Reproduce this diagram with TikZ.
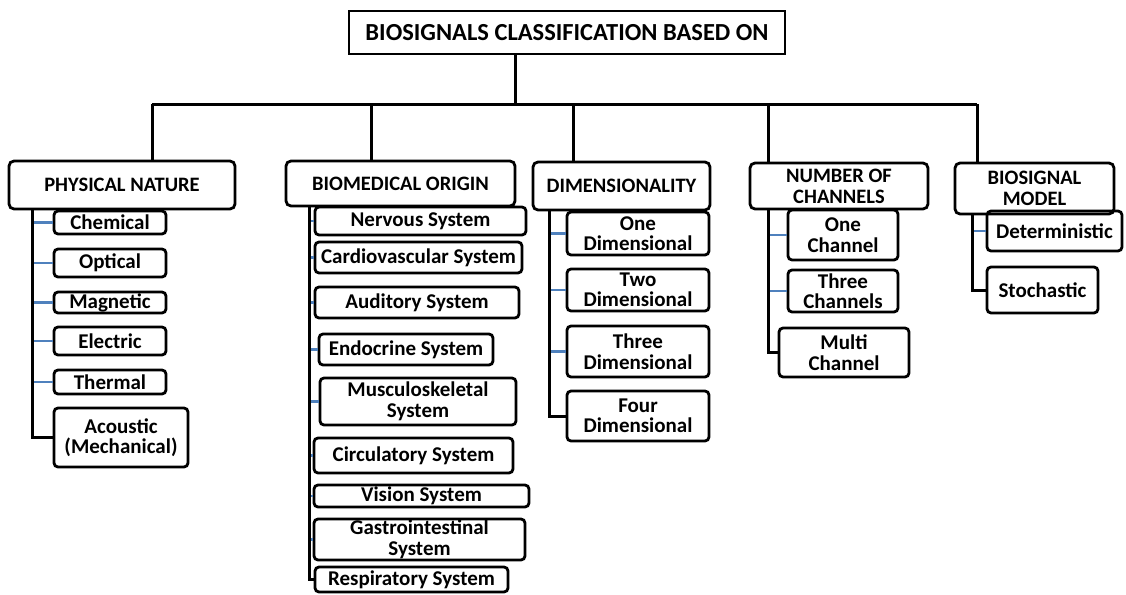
\documentclass[tikz,border=0pt]{standalone}
\usepackage{fontspec}
\setmainfont{Carlito}
\usetikzlibrary{positioning}
\definecolor{linkblue}{RGB}{79,129,189}

\begin{document}
\begin{tikzpicture}[x=1pt,y=-1pt,
    rootbox/.style={draw, line width=2.8pt, inner sep=0pt, font=\fontsize{24.5}{25}\selectfont\bfseries},
    groupbox/.style={draw, line width=2.8pt, rounded corners=5pt, inner sep=0pt, align=center, font=\fontsize{20.5}{21}\selectfont\bfseries},
    itembox/.style={draw, line width=2.8pt, rounded corners=4pt, inner sep=0pt, align=center, font=\fontsize{21}{20.5}\selectfont\bfseries},
    trunk/.style={line width=3pt},
    bluelink/.style={linkblue, line width=2.6pt}]

    \useasboundingbox (0,0) rectangle (1126,594);

    % Root
    \node[rootbox, minimum width=436pt, minimum height=43pt] (root) at (567,32.5) {BIOSIGNALS CLASSIFICATION BASED ON};

    % Groups
    \node[groupbox, minimum width=226pt, minimum height=48pt] (pn) at (122,185) {PHYSICAL NATURE};
    \node[groupbox, minimum width=229pt, minimum height=45pt] (bo) at (400.5,183.5) {BIOMEDICAL ORIGIN};
    \node[groupbox, minimum width=177pt, minimum height=48pt] (dm) at (621.5,186) {DIMENSIONALITY};
    \node[groupbox, minimum width=178pt, minimum height=46pt] (nc) at (839,186) {NUMBER OF\\CHANNELS};
    \node[groupbox, minimum width=159pt, minimum height=51pt] (bm) at (1034.5,188.5) {BIOSIGNAL\\MODEL};

    % Physical nature
    \node[itembox, minimum width=112pt, minimum height=23pt] (ch) at (110,222.5) {Chemical};
    \node[itembox, minimum width=112pt, minimum height=28pt] (op) at (110,263) {Optical};
    \node[itembox, minimum width=112pt, minimum height=21pt] (ma) at (110,302.5) {Magnetic};
    \node[itembox, minimum width=112pt, minimum height=28pt] (el) at (110,341) {Electric};
    \node[itembox, minimum width=112pt, minimum height=24pt] (th) at (110,382) {Thermal};
    \node[itembox, minimum width=134pt, minimum height=59pt] (ac) at (121,437.5) {Acoustic\\(Mechanical)};

    % Biomedical origin
    \node[itembox, minimum width=211pt, minimum height=28pt] (ne) at (420.5,221) {Nervous System};
    \node[itembox, minimum width=207pt, minimum height=31pt] (ca) at (418.5,257.5) {Cardiovascular System};
    \node[itembox, minimum width=204pt, minimum height=31pt] (au) at (417,302.5) {Auditory System};
    \node[itembox, minimum width=174pt, minimum height=31pt] (en) at (406,349.5) {Endocrine System};
    \node[itembox, minimum width=196pt, minimum height=47pt] (mu) at (418,401.5) {Musculoskeletal\\System};
    \node[itembox, minimum width=199pt, minimum height=35pt] (ci) at (413.5,455.5) {Circulatory System};
    \node[itembox, minimum width=215pt, minimum height=22pt] (vi) at (421.5,496) {Vision System};
    \node[itembox, minimum width=211pt, minimum height=41pt] (ga) at (419.5,539.5) {Gastrointestinal\\System};
    \node[itembox, minimum width=193pt, minimum height=25pt] (re) at (411.5,579.5) {Respiratory System};

    % Dimensionality
    \node[itembox, minimum width=142pt, minimum height=43pt] (od) at (638,233.5) {One\\Dimensional};
    \node[itembox, minimum width=142pt, minimum height=42pt] (tw) at (638,290) {Two\\Dimensional};
    \node[itembox, minimum width=142pt, minimum height=51pt] (td) at (638,351.5) {Three\\Dimensional};
    \node[itembox, minimum width=142pt, minimum height=50pt] (fd) at (638,416) {Four\\Dimensional};

    % Number of channels
    \node[itembox, minimum width=110pt, minimum height=50pt] (oc) at (843,235) {One\\Channel};
    \node[itembox, minimum width=110pt, minimum height=42pt] (tc) at (843,291) {Three\\Channels};
    \node[itembox, minimum width=130pt, minimum height=49pt] (mc) at (844,352.5) {Multi\\Channel};

    % Biosignal model
    \node[itembox, minimum width=135pt, minimum height=40pt] (de) at (1054.5,231) {Deterministic};
    \node[itembox, minimum width=111pt, minimum height=46pt] (st) at (1042.5,290) {Stochastic};

    % Bus
    \coordinate (hub) at (515,104);
    \coordinate (b1) at (152,104);
    \coordinate (b2) at (371,104);
    \coordinate (b3) at (573,104);
    \coordinate (b4) at (768,104);
    \coordinate (b5) at (977,104);
    \draw[trunk] (root.south -| hub) -- (hub);
    \draw[trunk] (b1) -- (b5);
    \draw[trunk] (b1) -- (b1 |- pn.north);
    \draw[trunk] (b2) -- (b2 |- bo.north);
    \draw[trunk] (b3) -- (b3 |- dm.north);
    \draw[trunk] (b4) -- (b4 |- nc.north);
    \draw[trunk] (b5) -- (b5 |- bm.north);

    % Branches
    \coordinate (pnt) at (32,0);
    \coordinate (bot) at (309,0);
    \coordinate (dmt) at (549,0);
    \coordinate (nct) at (768,0);
    \coordinate (bmt) at (972,0);
    \foreach \n in {ch,op,ma,el,th} \draw[bluelink] (\n.west) -- (\n.west -| pnt);
    \foreach \n in {ne,ca,au,en,mu,ci,vi,ga} \draw[bluelink] (\n.west) -- (\n.west -| bot);
    \foreach \n in {od,tw,td} \draw[bluelink] (\n.west) -- (\n.west -| dmt);
    \foreach \n in {oc,tc} \draw[bluelink] (\n.west) -- (\n.west -| nct);
    \draw[bluelink] (de.west) -- (de.west -| bmt);
    \draw[trunk] (pn.south -| pnt) |- (ac.west);
    \draw[trunk] (bo.south -| bot) |- (re.west);
    \draw[trunk] (dm.south -| dmt) |- (fd.west);
    \draw[trunk] (nc.south -| nct) |- (mc.west);
    \draw[trunk] (bm.south -| bmt) |- (st.west);
\end{tikzpicture}
\end{document}
